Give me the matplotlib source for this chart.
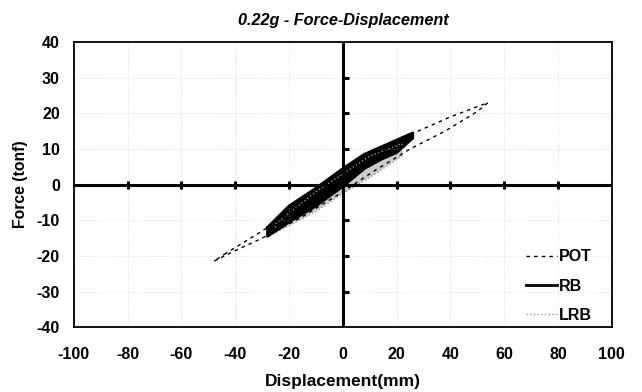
import matplotlib.pyplot as plt
import numpy as np

plt.rcParams['font.family'] = ['Liberation Sans', 'DejaVu Sans']
plt.rcParams['font.weight'] = 'bold'
plt.rcParams['axes.unicode_minus'] = False

# hysteresis loops (displacement mm, force tonf)
pot_x = [-44, -30, -15, 0, 12, 25, 40, 54, 50, 38, 25, 12, 0, -15, -30, -40, -48]
pot_y = [-19.5, -13, -5.5, 2, 8, 14, 19, 23, 20.5, 15, 10, 4, -2, -9, -15, -18.5, -21.5]

rb_x = [-28, -20, -10, 0, 8, 14, 20, 26, 26, 20, 14, 8, 0, -10, -20, -28]
rb_y = [-12, -6, -1, 4.5, 8.5, 10.5, 12.5, 14.5, 13, 9, 7, 4.5, -0.5, -6, -10.5, -14.5]

lrb_x = [-25, -10, 0, 10, 22, 22, 10, 0, -10, -25]
lrb_y = [-11, -2, 3, 8, 11.5, 8, 2, -2.5, -7.5, -13.5]

xticks = [-100, -80, -60, -40, -20, 0, 20, 40, 60, 80, 100]
yticks = [-40, -30, -20, -10, 0, 10, 20, 30, 40]

fig = plt.figure(figsize=(6.42, 3.92), dpi=100)
ax = fig.add_axes([0.115, 0.165, 0.838, 0.728])

ax.grid(True, color='#bbbbbb', linestyle=':', linewidth=0.7, alpha=0.5)

ax.fill(lrb_x, lrb_y, color='#aaaaaa', alpha=0.6, lw=0)
ax.plot(lrb_x + lrb_x[:1], lrb_y + lrb_y[:1], color='#999999', ls=':', lw=1, label='LRB')
ax.fill(rb_x, rb_y, color='black', lw=0)
ax.plot(rb_x + rb_x[:1], rb_y + rb_y[:1], color='black', lw=2, label='RB')
ax.plot(pot_x + pot_x[:1], pot_y + pot_y[:1], color='black', ls=(0, (2.5, 3)), lw=1, label='POT')

ax.axhline(0, color='black', lw=2.2)
ax.axvline(0, color='black', lw=2.2)
ax.plot(xticks[1:-1], np.zeros(len(xticks) - 2), ls='none', marker='|', ms=6, mew=2.2, color='black')
ax.plot(np.zeros(len(yticks) - 2) + 1.2, yticks[1:-1], ls='none', marker='_', ms=5, mew=2.2, color='black')

ax.set_xlim(-100, 100)
ax.set_ylim(-40, 40)
ax.set_xticks(xticks)
ax.set_yticks(yticks)
ax.tick_params(length=0, labelsize=11.5)
ax.tick_params(axis='x', pad=14)
ax.tick_params(axis='y', pad=10)
for s in ax.spines.values():
    s.set_linewidth(1.3)

ax.set_xlabel('Displacement(mm)', fontsize=12.5, fontweight='bold', labelpad=9)
ax.set_ylabel('Force (tonf)', fontsize=11.3, fontweight='bold', labelpad=6)
ax.set_title('0.22g - Force-Displacement', fontsize=11.7, fontweight='bold',
             style='italic', pad=12)

h, l = ax.get_legend_handles_labels()
order = [2, 1, 0]
ax.legend([h[i] for i in order], [l[i] for i in order], loc='lower right', frameon=False,
          fontsize=11.5, handlelength=2.0, handletextpad=0.1, labelspacing=0.9,
          bbox_to_anchor=(0.99, -0.035))

fig.savefig('out.png', dpi=100)
